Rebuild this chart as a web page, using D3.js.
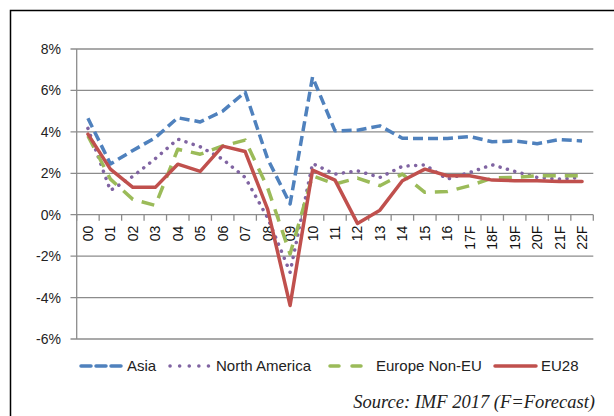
<!DOCTYPE html>
<html>
<head>
<meta charset="utf-8">
<script src="https://cdn.jsdelivr.net/npm/d3@7"></script>
<style>
  body { margin: 0; background: #fff; }
  svg { display: block; }
</style>
</head>
<body>
<div id="chart"></div>
<script>
// growth rates, % per year (IMF 2017, F = forecast)
var years = ["00","01","02","03","04","05","06","07","08","09","10","11","12","13","14","15","16","17F","18F","19F","20F","21F","22F"];
var asia = [4.66, 2.45, 3.1, 3.72, 4.68, 4.48, 5.0, 5.92, 2.7, 0.52, 6.65, 4.05, 4.08, 4.29, 3.69, 3.68, 3.68, 3.77, 3.52, 3.56, 3.43, 3.63, 3.56];
var northAmerica = [4.17, 1.17, 1.85, 2.71, 3.65, 3.28, 2.68, 1.8, -0.15, -2.78, 2.47, 1.96, 2.12, 1.8, 2.34, 2.41, 1.72, 2.04, 2.41, 2.09, 1.8, 1.72, 1.8];
var europeNonEU = [3.8, 1.72, 0.74, 0.45, 3.16, 2.92, 3.32, 3.6, 1.3, -1.9, 1.88, 1.48, 1.77, 1.4, 1.96, 1.08, 1.12, 1.4, 1.77, 1.8, 1.88, 1.88, 1.88];
var eu28 = [3.89, 2.2, 1.32, 1.32, 2.44, 2.09, 3.31, 3.05, 0.27, -4.38, 2.15, 1.67, -0.42, 0.22, 1.64, 2.2, 1.88, 1.88, 1.67, 1.64, 1.64, 1.6, 1.6];
var yTicks = [-6, -4, -2, 0, 2, 4, 6, 8];

var width = 614, height = 416;

var series = [
    { name: "Asia", values: asia, color: "#4F81BD", dash: "10,5", cap: "butt", legendDash: "10,5" },
    { name: "North America", values: northAmerica, color: "#8064A2", dash: "0.1,7.5", cap: "round", legendDash: "0.1,9.5" },
    { name: "Europe Non-EU", values: europeNonEU, color: "#9BBB59", dash: "13,9", cap: "butt", legendDash: "9,13" },
    { name: "EU28", values: eu28, color: "#C0504D", dash: null, cap: "round", legendDash: null }
];

var svg = d3.select("#chart").append("svg")
    .attr("width", width)
    .attr("height", height);

// outer frame (runs off the right and bottom edge)
svg.append("rect")
    .attr("x", 10.5).attr("y", 10.5)
    .attr("width", 700).attr("height", 500)
    .attr("fill", "#fff")
    .attr("stroke", "#000")
    .attr("stroke-width", 1.5);

var x = d3.scaleBand().domain(years).range([76.7, 593.3]);
var y = d3.scaleLinear().domain([-6, 8]).range([339, 49]);

// gridlines
svg.append("g")
    .selectAll("line")
    .data(yTicks)
    .enter()
    .append("line")
    .attr("x1", 70.5)
    .attr("x2", 593.3)
    .attr("y1", function (d) { return y(d); })
    .attr("y2", function (d) { return y(d); })
    .attr("stroke", "#8c8c8c")
    .attr("stroke-width", 1.3);

// y axis line
svg.append("line")
    .attr("x1", 76.7).attr("x2", 76.7)
    .attr("y1", y(8)).attr("y2", y(-6))
    .attr("stroke", "#8c8c8c")
    .attr("stroke-width", 1.3);

// y labels
svg.append("g")
    .selectAll("text")
    .data(yTicks)
    .enter()
    .append("text")
    .attr("x", 61)
    .attr("y", function (d) { return y(d) + 5; })
    .attr("text-anchor", "end")
    .style("font-family", "'Liberation Sans', Arial, sans-serif")
    .style("font-size", "14px")
    .attr("fill", "#222")
    .text(function (d) { return d + "%"; });

// x tick marks along the 0% line
var bounds = years.map(function (d) { return x(d); }).concat([x.range()[1]]);
svg.append("g")
    .selectAll("line")
    .data(bounds)
    .enter()
    .append("line")
    .attr("x1", function (d) { return d; })
    .attr("x2", function (d) { return d; })
    .attr("y1", y(0))
    .attr("y2", y(0) + 6)
    .attr("stroke", "#8c8c8c")
    .attr("stroke-width", 1.3);

// x labels, rotated
svg.append("g")
    .selectAll("text")
    .data(years)
    .enter()
    .append("text")
    .attr("transform", function (d) {
        return "translate(" + (x(d) + x.bandwidth() / 2 + 5) + "," + (y(0) + 11) + ") rotate(-90)";
    })
    .attr("text-anchor", "end")
    .style("font-family", "'Liberation Sans', Arial, sans-serif")
    .style("font-size", "14px")
    .attr("fill", "#111")
    .text(function (d) { return d; });

// lines
var line = d3.line()
    .x(function (d, i) { return x(years[i]) + x.bandwidth() / 2; })
    .y(function (d) { return y(d); });

series.forEach(function (s) {
    svg.append("path")
        .datum(s.values)
        .attr("fill", "none")
        .attr("stroke", s.color)
        .attr("stroke-width", 3.5)
        .attr("stroke-linejoin", "round")
        .attr("stroke-linecap", s.cap)
        .attr("stroke-dasharray", s.dash)
        .attr("d", line);
});

// legend
var legendX = [80, 169, 329, 494];
var legend = svg.append("g");
series.forEach(function (s, i) {
    var lx = legendX[i];
    legend.append("line")
        .attr("x1", lx + 1)
        .attr("x2", lx + 42)
        .attr("y1", 366).attr("y2", 366)
        .attr("stroke", s.color)
        .attr("stroke-width", 3.5)
        .attr("stroke-linecap", "round")
        .attr("stroke-dasharray", s.legendDash);
    legend.append("text")
        .attr("x", lx + 47)
        .attr("y", 371)
        .style("font-family", "'Liberation Sans', Arial, sans-serif")
        .style("font-size", "15px")
        .attr("fill", "#222")
        .text(s.name);
});

// source note
svg.append("text")
    .attr("x", 595)
    .attr("y", 408)
    .attr("text-anchor", "end")
    .style("font-family", "'Liberation Serif', 'Times New Roman', serif")
    .style("font-style", "italic")
    .style("font-size", "18.5px")
    .attr("fill", "#222")
    .text("Source: IMF 2017 (F=Forecast)");
</script>
</body>
</html>
